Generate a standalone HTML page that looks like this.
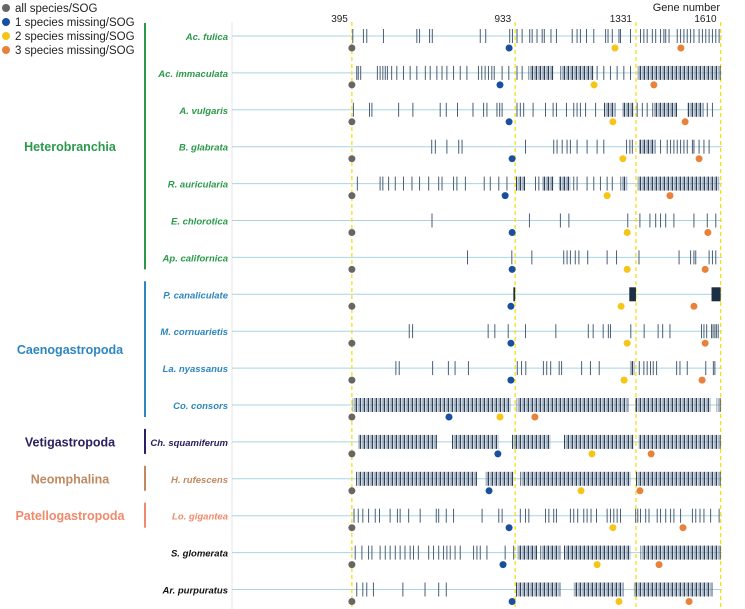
<!DOCTYPE html>
<html><head><meta charset="utf-8"><style>
body{margin:0;background:#fff;font-family:"Liberation Sans",Arial,sans-serif}
svg{display:block}
</style></head><body>
<svg id="chart" width="745" height="609" xmlns="http://www.w3.org/2000/svg">
<defs>
<pattern id="stripes" width="4" height="16" patternUnits="userSpaceOnUse">
<rect x="0" y="0" width="1" height="16" fill="#2c4058"/>
<rect x="1.6" y="0" width="0.8" height="16" fill="#9aa8ba"/>
<rect x="2.8" y="0" width="0.7" height="16" fill="#4a5e76"/>
</pattern>
</defs>
<g>
<circle cx="6" cy="8" r="4" fill="#666"/><text x="15" y="12" font-size="11.5" fill="#222">all species/SOG</text>
<circle cx="6" cy="22" r="4" fill="#1a4fa0"/><text x="15" y="26" font-size="11.5" fill="#222">1 species missing/SOG</text>
<circle cx="6" cy="36" r="4" fill="#f5c518"/><text x="15" y="40" font-size="11.5" fill="#222">2 species missing/SOG</text>
<circle cx="6" cy="50" r="4" fill="#e8823a"/><text x="15" y="54" font-size="11.5" fill="#222">3 species missing/SOG</text>
</g>
<text x="720" y="11" font-size="11" text-anchor="end" fill="#222">Gene number</text>
<line x1="232" x2="232" y1="22" y2="609" stroke="#e4e4e4" stroke-width="1"/>
<g id="groups"></g>
<g id="rows"></g>
<g id="marks"></g>
</svg>
<script>
const refGenes=[395,933,1331,1610];
const species=["Ac. fulica","Ac. immaculata","A. vulgaris","B. glabrata","R. auricularia","E. chlorotica","Ap. californica","P. canaliculate","M. cornuarietis","La. nyassanus","Co. consors","Ch. squamiferum","H. rufescens","Lo. gigantea","S. glomerata","Ar. purpuratus"];
const speciesGroup=[0,0,0,0,0,0,0,1,1,1,1,2,3,4,5,5];
const groupNames=["Heterobranchia","Caenogastropoda","Vetigastropoda","Neomphalina","Patellogastropoda",""];
const groupColors=["#2a9a4a","#2c86c0","#2b2060","#c08a60","#f08a6a","#111"];
const dotAll=[395,395,395,395,395,395,395,395,395,395,395,395,395,395,395,395];
const dot1=[913,883,913,923,900,923,923,919,919,919,715,876,847,913,893,923];
const dot2=[1262,1193,1255,1288,1236,1302,1302,1282,1302,1292,883,1186,1150,1255,1203,1275];
const dot3=[1479,1390,1493,1539,1443,1568,1559,1522,1559,1549,998,1381,1344,1486,1407,1506];
const ticks=[
[398,433,444,499,609,618,651,660,818,836,915,924,939,956,981,989,1005,1022,1029,1051,1069,1121,1137,1148,1168,1192,1231,1239,1253,1275,1280,1313,1346,1357,1368,1385,1396,1412,1423,1429,1440,1467,1478,1489,1500,1511,1522,1539,1550,1561,1572,1583,1594,1605],
[411,416,424,479,488,497,505,512,526,543,565,587,609,637,653,675,692,708,730,752,774,812,823,834,845,856,864,890,912,939,956,1203,1225,1247,1269,1291,1313],
[400,453,461,549,596,686,706,743,794,829,840,873,882,890,939,950,961,992,1033,1058,1069,1102,1126,1137,1148,1165,1198,1335,1352,1368,1566,1583],
[658,670,708,747,758,967,1060,1071,1088,1104,1115,1137,1170,1203,1225,1300,1311,1319,1412,1434,1445,1456,1467,1478,1489,1500,1517,1522,1539,1555,1572],
[413,488,497,516,538,565,593,618,648,681,692,730,741,769,831,851,879,906,1000,1011,1126,1137,1170,1192,1214,1236,1253],
[659,980,1082,1110,1304,1344,1377,1396,1412,1429,1456,1522,1566,1594],
[776,922,988,1093,1104,1115,1131,1143,1172,1236,1267,1341,1473,1511,1522,1528,1572,1583,1594],
[],
[584,595,844,866,910,967,1067,1174,1190,1223,1240,1247,1314,1358,1404,1419,1443,1547,1555,1564,1580,1585,1591,1596,1602],
[540,551,661,713,735,779,940,954,968,1026,1037,1050,1078,1086,1152,1181,1210,1342,1357,1368,1379,1388,1399,1465,1476,1500,1561,1586,1591],
[],
[],
[],
[402,416,431,450,472,486,521,545,554,582,620,673,681,706,730,824,879,890,950,967,978,1033,1044,1060,1069,1115,1126,1139,1159,1170,1183,1201,1236,1247,1258,1269,1280,1330,1337,1346,1363,1374,1401,1412,1429,1445,1456,1478,1517,1528,1542,1555,1577,1605],
[406,428,450,461,488,505,521,538,554,570,587,598,614,648,664,681,697,708,719,735,752,796,807,818,840,900,928],
[411,431,444,466,563,636,681,706]
];
const stripeBlocks=[
[],
[[977,1060],[1082,1192],[1335,1610]],
[[1225,1264],[1286,1324],[1385,1467],[1500,1555]],
[[1341,1396]],
[[934,967],[1022,1060],[1077,1115],[1280,1302],[1335,1605]],
[],[],[],[],
[[1311,1327]],
[[398,918],[938,1306],[1328,1577],[1597,1610]],
[[416,675],[724,878],[922,1049],[1093,1324],[1340,1610]],
[[409,807],[835,928],[950,1313],[1330,1610]],
[],
[[939,1005],[1016,1082],[1093,1313],[1346,1610]],
[[934,1082],[1126,1291],[1324,1583]]
];
const solidBlocks=[[],[],[],[],[],[],[],[[927,933],[1309,1331],[1580,1610]],[],[],[],[],[],[],[],[]];
const NS="http://www.w3.org/2000/svg";
const xs=g=>232+g*0.3035;
const ys=i=>36+i*36.9;
function mk(tag,attrs,parent){const e=document.createElementNS(NS,tag);for(const k in attrs)e.setAttribute(k,attrs[k]);parent.appendChild(e);return e;}
const rowsG=document.getElementById('rows'),marksG=document.getElementById('marks'),grpG=document.getElementById('groups');
species.forEach((s,i)=>{
 const l=mk('line',{x1:232,x2:722,y1:ys(i),y2:ys(i),stroke:'#a8d4e2','stroke-width':1},rowsG);
 
 
 const t=mk('text',{x:228,y:ys(i)+4,'font-size':9.5,'font-style':'italic','font-weight':'bold','text-anchor':'end',fill:groupColors[speciesGroup[i]]},rowsG);
 t.textContent=s;
 
 
});
groupNames.forEach((g,gi)=>{
 if(!g)return;
 const idx=speciesGroup.map((v,i)=>v===gi?i:-1).filter(v=>v>=0);
 const y0=ys(idx[0])-13,y1=ys(idx[idx.length-1])+12;
 const b=mk('line',{x1:145,x2:145,y1:y0,y2:y1,stroke:groupColors[gi],'stroke-width':2},grpG);
 
 
 const t=mk('text',{x:70,y:(y0+y1)/2+5,'font-size':12.5,'font-weight':'bold','text-anchor':'middle',fill:groupColors[gi]},grpG);
 t.textContent=g;
 
 
});
refGenes.forEach(g=>{
 const l=mk('line',{x1:xs(g),x2:xs(g),y1:22,y2:609,stroke:'#f2e11a','stroke-width':1.3,'stroke-dasharray':'4,3'},rowsG);
 
 
 const t=mk('text',{x:xs(g)-4,y:22,'font-size':10,'text-anchor':'end',fill:'#222'},rowsG);
 t.textContent=g;
 
 
});
species.forEach((s,i)=>{
 const y=ys(i);
 stripeBlocks[i].forEach(b=>{
  const r=mk('rect',{x:xs(b[0]),y:y-7,width:xs(b[1])-xs(b[0]),height:14,fill:'url(#stripes)'},marksG);
  
  
 });
 solidBlocks[i].forEach(b=>{
  const r=mk('rect',{x:xs(b[0]),y:y-7,width:Math.max(1.5,xs(b[1])-xs(b[0])),height:14,fill:'#1c2e44'},marksG);
  
  
 });
 ticks[i].forEach(g=>{
  const l=mk('line',{x1:xs(g),x2:xs(g),y1:y-7,y2:y+7,stroke:'#4a5e76','stroke-width':1},marksG);
  
  
 });
 [[dotAll,'#666'],[dot1,'#1a4fa0'],[dot2,'#f5c518'],[dot3,'#e8823a']].forEach(([arr,c])=>{
  const d=mk('circle',{cx:xs(arr[i]),cy:y+12,r:3.5,fill:c},marksG);
  
  
 });
});
</script>
</body></html>
